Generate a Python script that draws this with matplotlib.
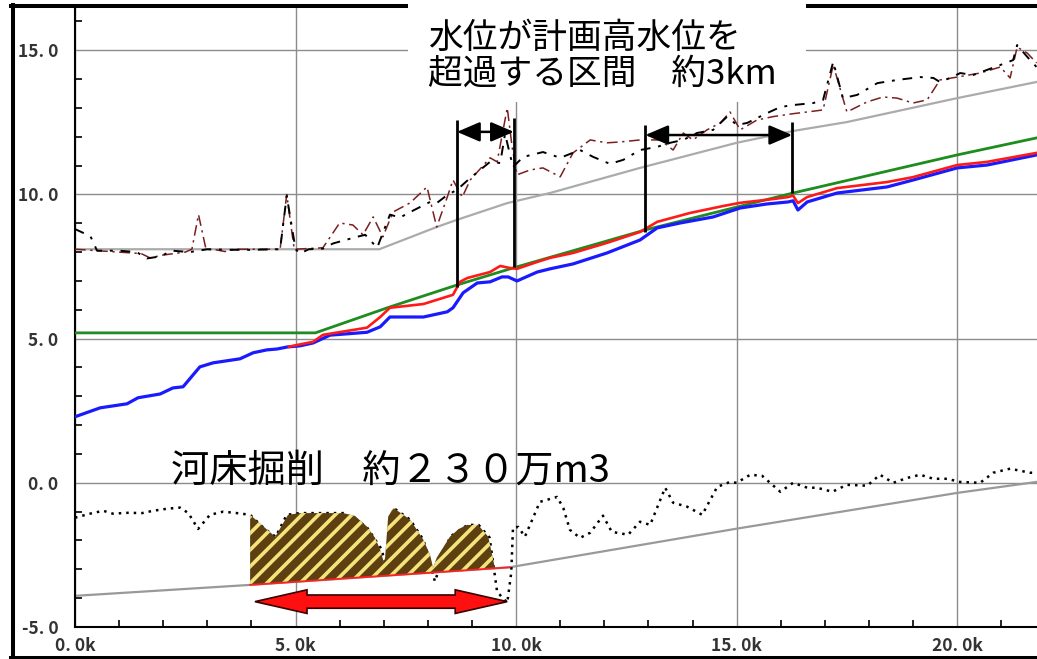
import numpy as np
import matplotlib.pyplot as plt
from matplotlib import patches, lines
from matplotlib.ticker import MultipleLocator, FuncFormatter

plt.rcParams['font.family'] = ['Noto Sans CJK JP', 'DejaVu Sans']
plt.rcParams['hatch.linewidth'] = 2.6

# --- data (distance km, elevation m) ---
# upper grey line (flat then rising)
upper_x = [0, 6.9, 8.2, 8.66, 9.8, 10.77, 12.81, 15.0, 16.28, 17.5, 20.0, 21.8]
upper_y = [8.1, 8.1, 8.87, 9.12, 9.7, 10.05, 10.92, 11.79, 12.2, 12.51, 13.34, 13.9]

# black dash-dot
bank_k_x = [0, 0.35, 0.5, 1.0, 1.4, 1.63, 1.93, 2.2, 2.6, 3.0, 3.5, 4.0, 4.65, 4.8, 5.0, 5.1,
            5.3, 5.62, 5.85, 6.39, 6.58, 6.85, 7.14, 7.37, 7.6, 8.05, 8.2, 8.44, 8.66, 8.96,
            9.41, 9.64, 9.75, 9.93, 10.16, 10.61, 11.0, 11.45, 11.75, 12.13, 12.43, 12.81,
            13.2, 13.49, 13.79, 14.1, 14.47, 14.78, 15.01, 15.24, 15.69, 15.99, 16.28, 16.74,
            16.96, 17.19, 17.41, 17.73, 18.19, 18.64, 19.16, 19.46, 19.61, 19.84, 20.07,
            20.36, 20.68, 20.98, 21.27, 21.36, 21.59, 21.8]
bank_k_y = [8.8, 8.55, 8.05, 8.05, 8.0, 7.78, 7.85, 8.05, 8.0, 8.1, 8.08, 8.08, 8.1, 9.95, 8.1,
            7.95, 8.1, 8.12, 8.3, 8.53, 8.6, 8.15, 9.3, 9.2, 9.39, 9.74, 9.7, 9.98, 10.16,
            10.57, 11.13, 11.09, 12.1, 10.95, 11.3, 11.47, 11.27, 11.54, 11.3, 11.06, 11.2,
            11.54, 11.65, 11.79, 11.89, 12.13, 12.24, 12.69, 12.41, 12.48, 12.82, 13.03, 13.1,
            13.17, 13.28, 14.6, 13.34, 13.45, 13.86, 13.97, 14.07, 14.04, 13.9, 14.04, 14.21,
            14.14, 14.32, 14.49, 14.66, 15.18, 14.77, 14.42]

# dark red dash-dot
bank_r_x = [0, 0.5, 1.0, 1.5, 1.7, 2.0, 2.5, 2.65, 2.8, 2.97, 3.2, 3.4, 3.6, 4.65, 4.8, 4.97,
            5.62, 6.0, 6.3, 6.53, 6.76, 6.98, 7.21, 7.6, 7.98, 8.2, 8.44, 8.57, 8.78, 8.96,
            9.41, 9.57, 9.8, 9.91, 10.02, 10.32, 10.61, 11.0, 11.29, 11.68, 12.06, 12.36,
            12.81, 13.27, 13.56, 13.79, 14.01, 14.33, 14.63, 14.85, 15.08, 15.46, 15.83,
            16.28, 16.6, 16.96, 17.19, 17.5, 17.96, 18.32, 18.64, 19.0, 19.32, 19.61, 20.0,
            20.52, 20.98, 21.2, 21.36, 21.59, 21.8]
bank_r_y = [8.1, 8.05, 8.0, 7.95, 7.8, 7.9, 8.0, 8.1, 9.3, 8.1, 8.08, 8.02, 8.1, 8.1, 10.0, 8.1,
            8.15, 9.01, 8.94, 8.6, 9.22, 8.53, 9.39, 9.71, 10.26, 8.87, 9.91, 10.5, 9.91, 10.5,
            11.27, 11.13, 13.0, 11.65, 10.68, 10.85, 10.92, 10.61, 11.44, 11.89, 11.79, 11.82,
            11.89, 11.89, 11.54, 12.13, 11.89, 12.24, 12.48, 12.86, 12.24, 12.58, 12.7,
            12.8, 12.86, 12.93, 14.49, 12.86, 13.21, 13.38, 13.34, 13.17, 13.28, 13.97, 14.07,
            14.21, 14.42, 14.04, 15.11, 14.9, 14.56]

# green (planned high water level)
hwl_x = [0, 5.45, 7.14, 8.66, 9.93, 12.93, 16.28, 20.0, 21.8]
hwl_y = [5.2, 5.2, 6.1, 6.86, 7.45, 8.77, 10.05, 11.37, 11.96]

# blue water level
wl_b_x = [0, 0.57, 1.18, 1.43, 1.93, 2.22, 2.45, 2.83, 3.13, 3.74, 4.04, 4.35, 4.58, 4.81, 5.1,
          5.4, 5.78, 6.62, 6.92, 7.14, 7.9, 8.44, 8.57, 8.8, 9.12, 9.41, 9.68, 9.82, 10.02,
          10.48, 10.77, 11.29, 12.06, 12.81, 13.2, 13.72, 14.47, 15.08, 15.69, 16.17, 16.28,
          16.39, 16.6, 17.28, 18.41, 19.0, 20.0, 20.68, 21.8]
wl_b_y = [2.29, 2.6, 2.74, 2.95, 3.08, 3.29, 3.33, 4.02, 4.16, 4.3, 4.51, 4.61, 4.64, 4.71, 4.75,
          4.85, 5.12, 5.22, 5.41, 5.75, 5.75, 5.93, 6.07, 6.59, 6.93, 6.97, 7.14, 7.14, 7.0,
          7.31, 7.42, 7.59, 7.97, 8.42, 8.84, 9.01, 9.22, 9.53, 9.67, 9.74, 9.78,
          9.46, 9.74, 10.05, 10.26, 10.5, 10.92, 11.02, 11.37]

# red water level
wl_r_x = [4.85, 5.1, 5.4, 5.62, 6.62, 6.92, 7.14, 7.9, 8.57, 8.73, 8.89, 9.41, 9.64, 9.86, 10.02,
          10.48, 10.77, 11.29, 12.06, 12.81, 13.2, 13.95, 14.7, 15.08, 15.83, 16.17, 16.28,
          16.39, 16.6, 17.28, 18.41, 19.0, 20.0, 20.68, 21.8]
wl_r_y = [4.72, 4.8, 4.89, 5.13, 5.38, 5.75, 6.07, 6.2, 6.52, 6.97, 7.1, 7.31, 7.52, 7.45, 7.42,
          7.66, 7.8, 7.97, 8.32, 8.7, 9.05, 9.36, 9.6, 9.71, 9.84, 9.91, 9.96,
          9.7, 9.91, 10.22, 10.43, 10.6, 11.02, 11.13, 11.44]

# planned river bed (grey, lower)
bed_plan_x = [0, 3.97, 9.85, 15.0, 20.0, 21.8]
bed_plan_y = [-3.92, -3.54, -2.93, -1.59, -0.35, 0.03]

# present deepest bed (dotted)
bed_now_x = [0, 0.34, 0.64, 0.86, 1.2, 1.52, 1.77, 2.08, 2.38, 2.57, 2.79, 3.06, 3.36, 3.67,
             3.97, 4.3, 4.55, 4.8, 5.1, 6.1, 6.6, 6.95, 7.05, 7.22, 7.6, 7.9, 8.16, 8.5, 8.9,
             9.15, 9.4, 9.57, 9.8, 9.89, 9.93, 10.05, 10.2, 10.54, 10.93, 11.07, 11.22, 11.45,
             11.68, 11.97, 12.17, 12.54, 12.81, 13.04, 13.38, 13.56, 13.88, 14.22, 14.56,
             14.85, 15.0, 15.31, 15.58, 15.99, 16.28, 16.6, 16.82, 17.17, 17.5, 17.96, 18.25,
             18.55, 18.87, 19.16, 19.46, 19.77, 20.07, 20.52, 20.82, 21.2, 21.65, 21.8]
bed_now_y = [-1.21, -1.07, -0.97, -1.07, -1.04, -1.05, -0.97, -0.9, -0.86, -1.05, -1.6, -1.11,
             -1.0, -1.05, -1.11, -1.6, -1.87, -1.11, -1.05, -1.05, -1.5, -2.3, -2.9, -0.87,
             -1.28, -1.98, -3.42, -1.87, -1.46, -1.46, -1.9, -3.78, -4.16, -3.12, -1.56, -1.53,
             -1.87, -0.66, -0.49, -0.87, -1.63, -1.91, -1.73, -1.14, -1.7, -1.8, -1.35, -1.46,
             -0.17, -0.69, -0.83, -1.11, -0.14, 0.03, 0.0, 0.28, 0.24, -0.31, 0.0, -0.17, -0.17,
             -0.31, -0.07, -0.1, 0.28, 0.0, 0.17, 0.28, 0.14, 0.14, 0.03, 0.0, 0.35, 0.49,
             0.35, 0.35]

# excavation section top (hatched)
exc_x = [3.97, 4.54, 4.83, 5.1, 6.08, 6.35, 6.62, 6.8, 6.92, 7.0, 7.03, 7.1, 7.22, 7.6, 7.9,
         8.05, 8.12, 8.2, 8.5, 8.7, 8.89, 9.14, 9.37, 9.48, 9.52]
exc_top = [-1.11, -1.87, -1.11, -1.05, -1.05, -1.15, -1.52, -1.9, -2.32, -2.75, -2.6, -1.17,
           -0.87, -1.28, -1.98, -2.5, -2.95, -2.6, -1.87, -1.6, -1.46, -1.46, -1.87, -2.67,
           -2.95]
exc_range = [3.97, 9.85]

# annotations
over_lines_x = [8.66, 9.95, 12.93, 16.26]
over_lines_lo = [6.79, 7.49, 8.7, 10.05]
over_lines_hi = [12.58, 12.65, 12.41, 12.51]
over_arrows = [(8.66, 9.95, 12.17), (12.93, 16.26, 12.06)]
exc_arrow = (4.08, 9.8, -4.12)

W, H = 1037, 659
fig = plt.figure(figsize=(W / 100, H / 100), dpi=100)
ax = fig.add_axes([75 / W, (H - 627) / H, (W - 75) / W, (627 - 7) / H])
ax.set_xlim(0, 21.81)
ax.set_ylim(-5, 16.5)

ax.xaxis.set_major_locator(MultipleLocator(5))
ax.xaxis.set_minor_locator(MultipleLocator(1))
ax.yaxis.set_major_locator(MultipleLocator(5))
ax.yaxis.set_minor_locator(MultipleLocator(1))
ax.xaxis.set_major_formatter(FuncFormatter(lambda v, p: f"{v:.1f}".replace('.', '. ') + 'k'))
ax.yaxis.set_major_formatter(FuncFormatter(lambda v, p: f"{v:.1f}".replace('.', '. ')))
ax.tick_params(which='major', length=0, labelsize=12.5, labelcolor='#333333')
ax.tick_params(axis='y', which='major', pad=12)
ax.tick_params(axis='x', which='major', pad=7)
ax.tick_params(which='minor', direction='in', length=5, width=1.2, color='black')
for lab in ax.get_xticklabels() + ax.get_yticklabels():
    lab.set_fontweight('bold')
ax.grid(True, which='major', color='#8c8c8c', lw=1.0)
ax.set_axisbelow(True)
for s in ['top', 'right']:
    ax.spines[s].set_visible(False)
for s in ['left', 'bottom']:
    ax.spines[s].set_linewidth(1.5)
    ax.spines[s].set_color('black')

# upper profile
ax.plot(upper_x, upper_y, color='#ababab', lw=1.6, zorder=2)
ax.plot(bank_r_x, bank_r_y, color='#7a1f1f', lw=1.1, ls=(0, (7, 3, 1.5, 3)), zorder=3)
ax.plot(bank_k_x, bank_k_y, color='black', lw=1.4, ls=(0, (5, 4, 1.5, 4)), zorder=3)
ax.plot(hwl_x, hwl_y, color='#1e8c1e', lw=2.0, zorder=4)
ax.plot(wl_b_x, wl_b_y, color='#1a1aff', lw=2.3, zorder=5)
ax.plot(wl_r_x, wl_r_y, color='#ff1a1a', lw=1.9, zorder=6)

# lower profile
ax.plot(bed_plan_x, bed_plan_y, color='#999999', lw=1.6, zorder=2)
ax.plot(bed_now_x, bed_now_y, color='black', lw=1.8, ls=(0, (1, 2)), zorder=3)
exc_bot = np.interp(exc_x, bed_plan_x, bed_plan_y)
ax.fill_between(exc_x, exc_bot, exc_top, facecolor='#5e4010', edgecolor='#f3e47c',
                hatch='//', linewidth=0, zorder=4)
rb_x = np.array(exc_range)
ax.plot(rb_x, np.interp(rb_x, bed_plan_x, bed_plan_y), color='#ff2020', lw=1.3, zorder=5)

# exceedance markers
ax.vlines(over_lines_x, over_lines_lo, over_lines_hi, color='black', lw=2.0, zorder=7)
for x0, x1, yy in over_arrows:
    ax.annotate('', xy=(x1, yy), xytext=(x0, yy), zorder=7,
                arrowprops=dict(arrowstyle='<|-|>,head_length=0.7,head_width=0.3',
                                color='black', lw=1.8, mutation_scale=20,
                                shrinkA=0, shrinkB=0))

# red block double arrow
ax0, ax1, ay = exc_arrow
body, head_w, head_l = 0.23, 0.41, 1.18
arrow_pts = [(ax0, ay), (ax0 + head_l, ay + head_w), (ax0 + head_l, ay + body),
             (ax1 - head_l, ay + body), (ax1 - head_l, ay + head_w), (ax1, ay),
             (ax1 - head_l, ay - head_w), (ax1 - head_l, ay - body),
             (ax0 + head_l, ay - body), (ax0 + head_l, ay - head_w)]
ax.add_patch(patches.Polygon(arrow_pts, closed=True, facecolor='#ff1010',
                             edgecolor='#3a0000', lw=1.2, zorder=8))

# page frame
fx = lambda px: px / W
fy = lambda py: 1 - py / H
frame_kw = dict(color='black', lw=2.9, transform=fig.transFigure, zorder=4)
fig.add_artist(lines.Line2D([fx(13), fx(13)], [fy(5), fy(658)], **frame_kw))
fig.add_artist(lines.Line2D([fx(11), 1], [fy(5.5), fy(5.5)], **frame_kw))
fig.add_artist(lines.Line2D([fx(11), 1], [fy(657.5), fy(657.5)], **frame_kw))
fig.add_artist(patches.Rectangle((fx(408), fy(102)), fx(806) - fx(408), 102 / H + 0.01,
                                 transform=fig.transFigure, facecolor='white',
                                 edgecolor='none', zorder=5))

fig.text(fx(428), fy(38), '水位が計画高水位を', fontsize=25, va='center', ha='left', zorder=6)
fig.text(fx(428), fy(74), '超過する区間　約3km', fontsize=25, va='center', ha='left', zorder=6)
fig.text(fx(171), fy(471), '河床掘削　約２３０万m3', fontsize=27.5, va='center', ha='left',
         zorder=6)

fig.savefig('out.png', dpi=100)
